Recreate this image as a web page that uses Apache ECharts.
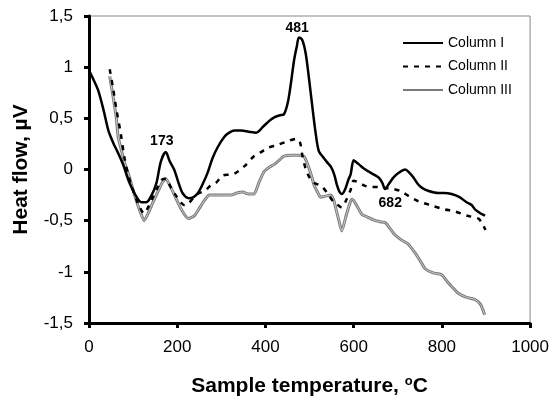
<!DOCTYPE html>
<html>
<head>
<meta charset="utf-8">
<script src="https://cdn.jsdelivr.net/npm/echarts@6/dist/echarts.min.js"></script>
<style>
  html, body { margin: 0; padding: 0; background: #fff; }
  #main { width: 552px; height: 402px; }
</style>
</head>
<body>
<div id="main"></div>
<script>
// temperature (°C), heat flow (µV)
var colI = [[0,0.97],[10,0.88],[21,0.77],[33,0.58],[44,0.38],[55,0.26],[66,0.16],[78,0.04],[89,-0.10],[104,-0.24],[119,-0.32],[130,-0.32],[142,-0.25],[153,-0.13],[163,0.08],[174,0.17],[183,0.08],[193,0],[203,-0.13],[212,-0.23],[226,-0.28],[237,-0.27],[247,-0.23],[258,-0.14],[269,-0.03],[280,0.11],[292,0.22],[307,0.32],[318,0.36],[330,0.38],[345,0.38],[362,0.37],[379,0.36],[395,0.42],[410,0.48],[420,0.51],[433,0.53],[442,0.54],[451,0.66],[458,0.85],[465,1.07],[471,1.2],[476,1.29],[483,1.27],[491,1.14],[499,0.88],[507,0.59],[514,0.35],[521,0.18],[531,0.12],[540,0.07],[548,0.03],[556,-0.05],[562,-0.15],[567,-0.21],[573,-0.24],[580,-0.2],[588,-0.1],[593,-0.05],[600,0.09],[606,0.07],[612,0.05],[623,0.01],[634,-0.02],[646,-0.05],[657,-0.08],[665,-0.13],[671,-0.19],[680,-0.14],[690,-0.08],[703,-0.03],[717,0],[726,-0.03],[736,-0.08],[745,-0.14],[755,-0.18],[770,-0.21],[792,-0.23],[805,-0.23],[822,-0.24],[840,-0.27],[856,-0.32],[868,-0.35],[875,-0.39],[888,-0.43],[898,-0.45]];
var colII = [[47,0.98],[55,0.78],[62,0.59],[72,0.35],[81,0.1],[92,-0.1],[104,-0.25],[114,-0.36],[125,-0.43],[135,-0.36],[145,-0.27],[155,-0.18],[165,-0.1],[174,-0.09],[185,-0.17],[198,-0.26],[210,-0.33],[217,-0.35],[226,-0.33],[238,-0.27],[250,-0.23],[262,-0.21],[275,-0.16],[288,-0.13],[303,-0.06],[318,-0.05],[330,-0.04],[352,0.03],[374,0.13],[390,0.17],[405,0.21],[427,0.24],[453,0.28],[470,0.3],[478,0.27],[484,0.13],[491,0.01],[500,-0.08],[510,-0.13],[520,-0.15],[529,-0.17],[540,-0.23],[555,-0.32],[565,-0.35],[573,-0.37],[583,-0.3],[593,-0.2],[600,-0.11],[613,-0.13],[626,-0.16],[640,-0.17],[657,-0.17],[671,-0.18],[690,-0.19],[706,-0.21],[725,-0.26],[747,-0.31],[775,-0.35],[807,-0.39],[830,-0.41],[856,-0.45],[883,-0.48],[890,-0.52],[899,-0.59]];
var colIII = [[47,0.91],[55,0.7],[62,0.5],[66,0.32],[74,0.18],[81,0.06],[92,-0.08],[104,-0.26],[115,-0.4],[125,-0.50],[135,-0.42],[145,-0.32],[158,-0.2],[167,-0.12],[174,-0.09],[186,-0.18],[198,-0.29],[212,-0.41],[226,-0.48],[239,-0.45],[250,-0.38],[262,-0.3],[273,-0.25],[284,-0.25],[299,-0.25],[322,-0.25],[335,-0.23],[348,-0.22],[362,-0.24],[374,-0.24],[385,-0.13],[397,-0.02],[408,0.02],[420,0.05],[431,0.09],[442,0.13],[460,0.14],[475,0.14],[487,0.13],[493,0.08],[499,0.01],[505,-0.07],[510,-0.15],[518,-0.22],[525,-0.27],[536,-0.26],[548,-0.25],[555,-0.3],[559,-0.37],[566,-0.49],[573,-0.60],[583,-0.45],[593,-0.31],[597,-0.29],[608,-0.36],[619,-0.44],[634,-0.47],[649,-0.50],[660,-0.51],[672,-0.52],[683,-0.58],[694,-0.64],[709,-0.69],[724,-0.73],[740,-0.82],[752,-0.9],[762,-0.97],[780,-1.01],[800,-1.03],[815,-1.11],[826,-1.16],[837,-1.21],[856,-1.25],[875,-1.27],[888,-1.32],[897,-1.42]];
// peak annotations: text, position
var peakNames = ['173', '481', '682'];
var peakPos = [[165,0.28],[472,1.38],[683,-0.33]];

var FONT = '"Liberation Sans", Arial, sans-serif';
var myChart = echarts.init(document.getElementById('main'));

var peaks = peakNames.map(function (n, i) { return { name: n, coord: peakPos[i] }; });

var option = {
    animation: false,
    textStyle: { fontFamily: FONT },
    grid: { left: 89, right: 20, top: 16, bottom: 75, show: true, borderColor: '#888', borderWidth: 1 },
    legend: {
        orient: 'vertical', left: 402, top: 36, padding: 0,
        itemWidth: 40, itemHeight: 14, itemGap: 9.5,
        data: ['Column I', 'Column II', 'Column III'],
        itemStyle: { opacity: 0 },
        textStyle: { fontFamily: FONT, fontSize: 14, color: '#000' }
    },
    xAxis: {
        type: 'value', min: 0, max: 1000, interval: 200,
        name: 'Sample temperature, {sup|o}C', nameLocation: 'middle', nameGap: 52,
        nameTextStyle: {
            fontFamily: FONT, fontSize: 21, fontWeight: 'bold', color: '#000',
            rich: { sup: { fontSize: 13, fontWeight: 'bold', verticalAlign: 'top', padding: [0, 0, 10, 0] } }
        },
        axisLine: { onZero: false, lineStyle: { color: '#000', width: 3 } },
        axisTick: { show: true, inside: false, length: 5, lineStyle: { color: '#000', width: 3 } },
        axisLabel: { fontSize: 17, color: '#000', margin: 16, formatter: function (v) { return String(v); } },
        splitLine: { show: false }
    },
    yAxis: {
        type: 'value', min: -1.5, max: 1.5, interval: 0.5,
        name: 'Heat flow, \u00b5V', nameLocation: 'middle', nameGap: 57,
        nameTextStyle: { fontFamily: FONT, fontSize: 21, fontWeight: 'bold', color: '#000' },
        axisLine: { show: true, onZero: false, lineStyle: { color: '#000', width: 3 } },
        axisTick: { show: true, inside: false, length: 5, lineStyle: { color: '#000', width: 3 } },
        axisLabel: {
            fontSize: 17, color: '#000', margin: 16,
            formatter: function (v) { return String(v).replace('.', ','); }
        },
        splitLine: { show: false }
    },
    series: [
        {
            name: 'Column III', type: 'line', data: colIII, symbol: 'none', smooth: 0.2,
            lineStyle: { color: '#7a7a7a', width: 3 }, itemStyle: { color: '#7a7a7a' }
        },
        {
            name: 'III core', type: 'line', data: colIII, symbol: 'none', silent: true, smooth: 0.2,
            lineStyle: { color: '#cfcfcf', width: 1 }
        },
        {
            name: 'Column II', type: 'line', data: colII, symbol: 'none', smooth: 0.3,
            lineStyle: { color: '#000', width: 2.5, type: [5, 6] }, itemStyle: { color: '#000' }
        },
        {
            name: 'Column I', type: 'line', data: colI, symbol: 'none', smooth: 0.3,
            lineStyle: { color: '#000', width: 2.5 }, itemStyle: { color: '#000' },
            markPoint: {
                symbol: 'circle', symbolSize: 1,
                itemStyle: { color: 'rgba(0,0,0,0)' },
                label: { show: true, position: 'inside', formatter: '{b}', fontFamily: FONT, fontSize: 14, fontWeight: 'bold', color: '#000' },
                data: peaks
            }
        }
    ]
};
myChart.setOption(option);
</script>
</body>
</html>
